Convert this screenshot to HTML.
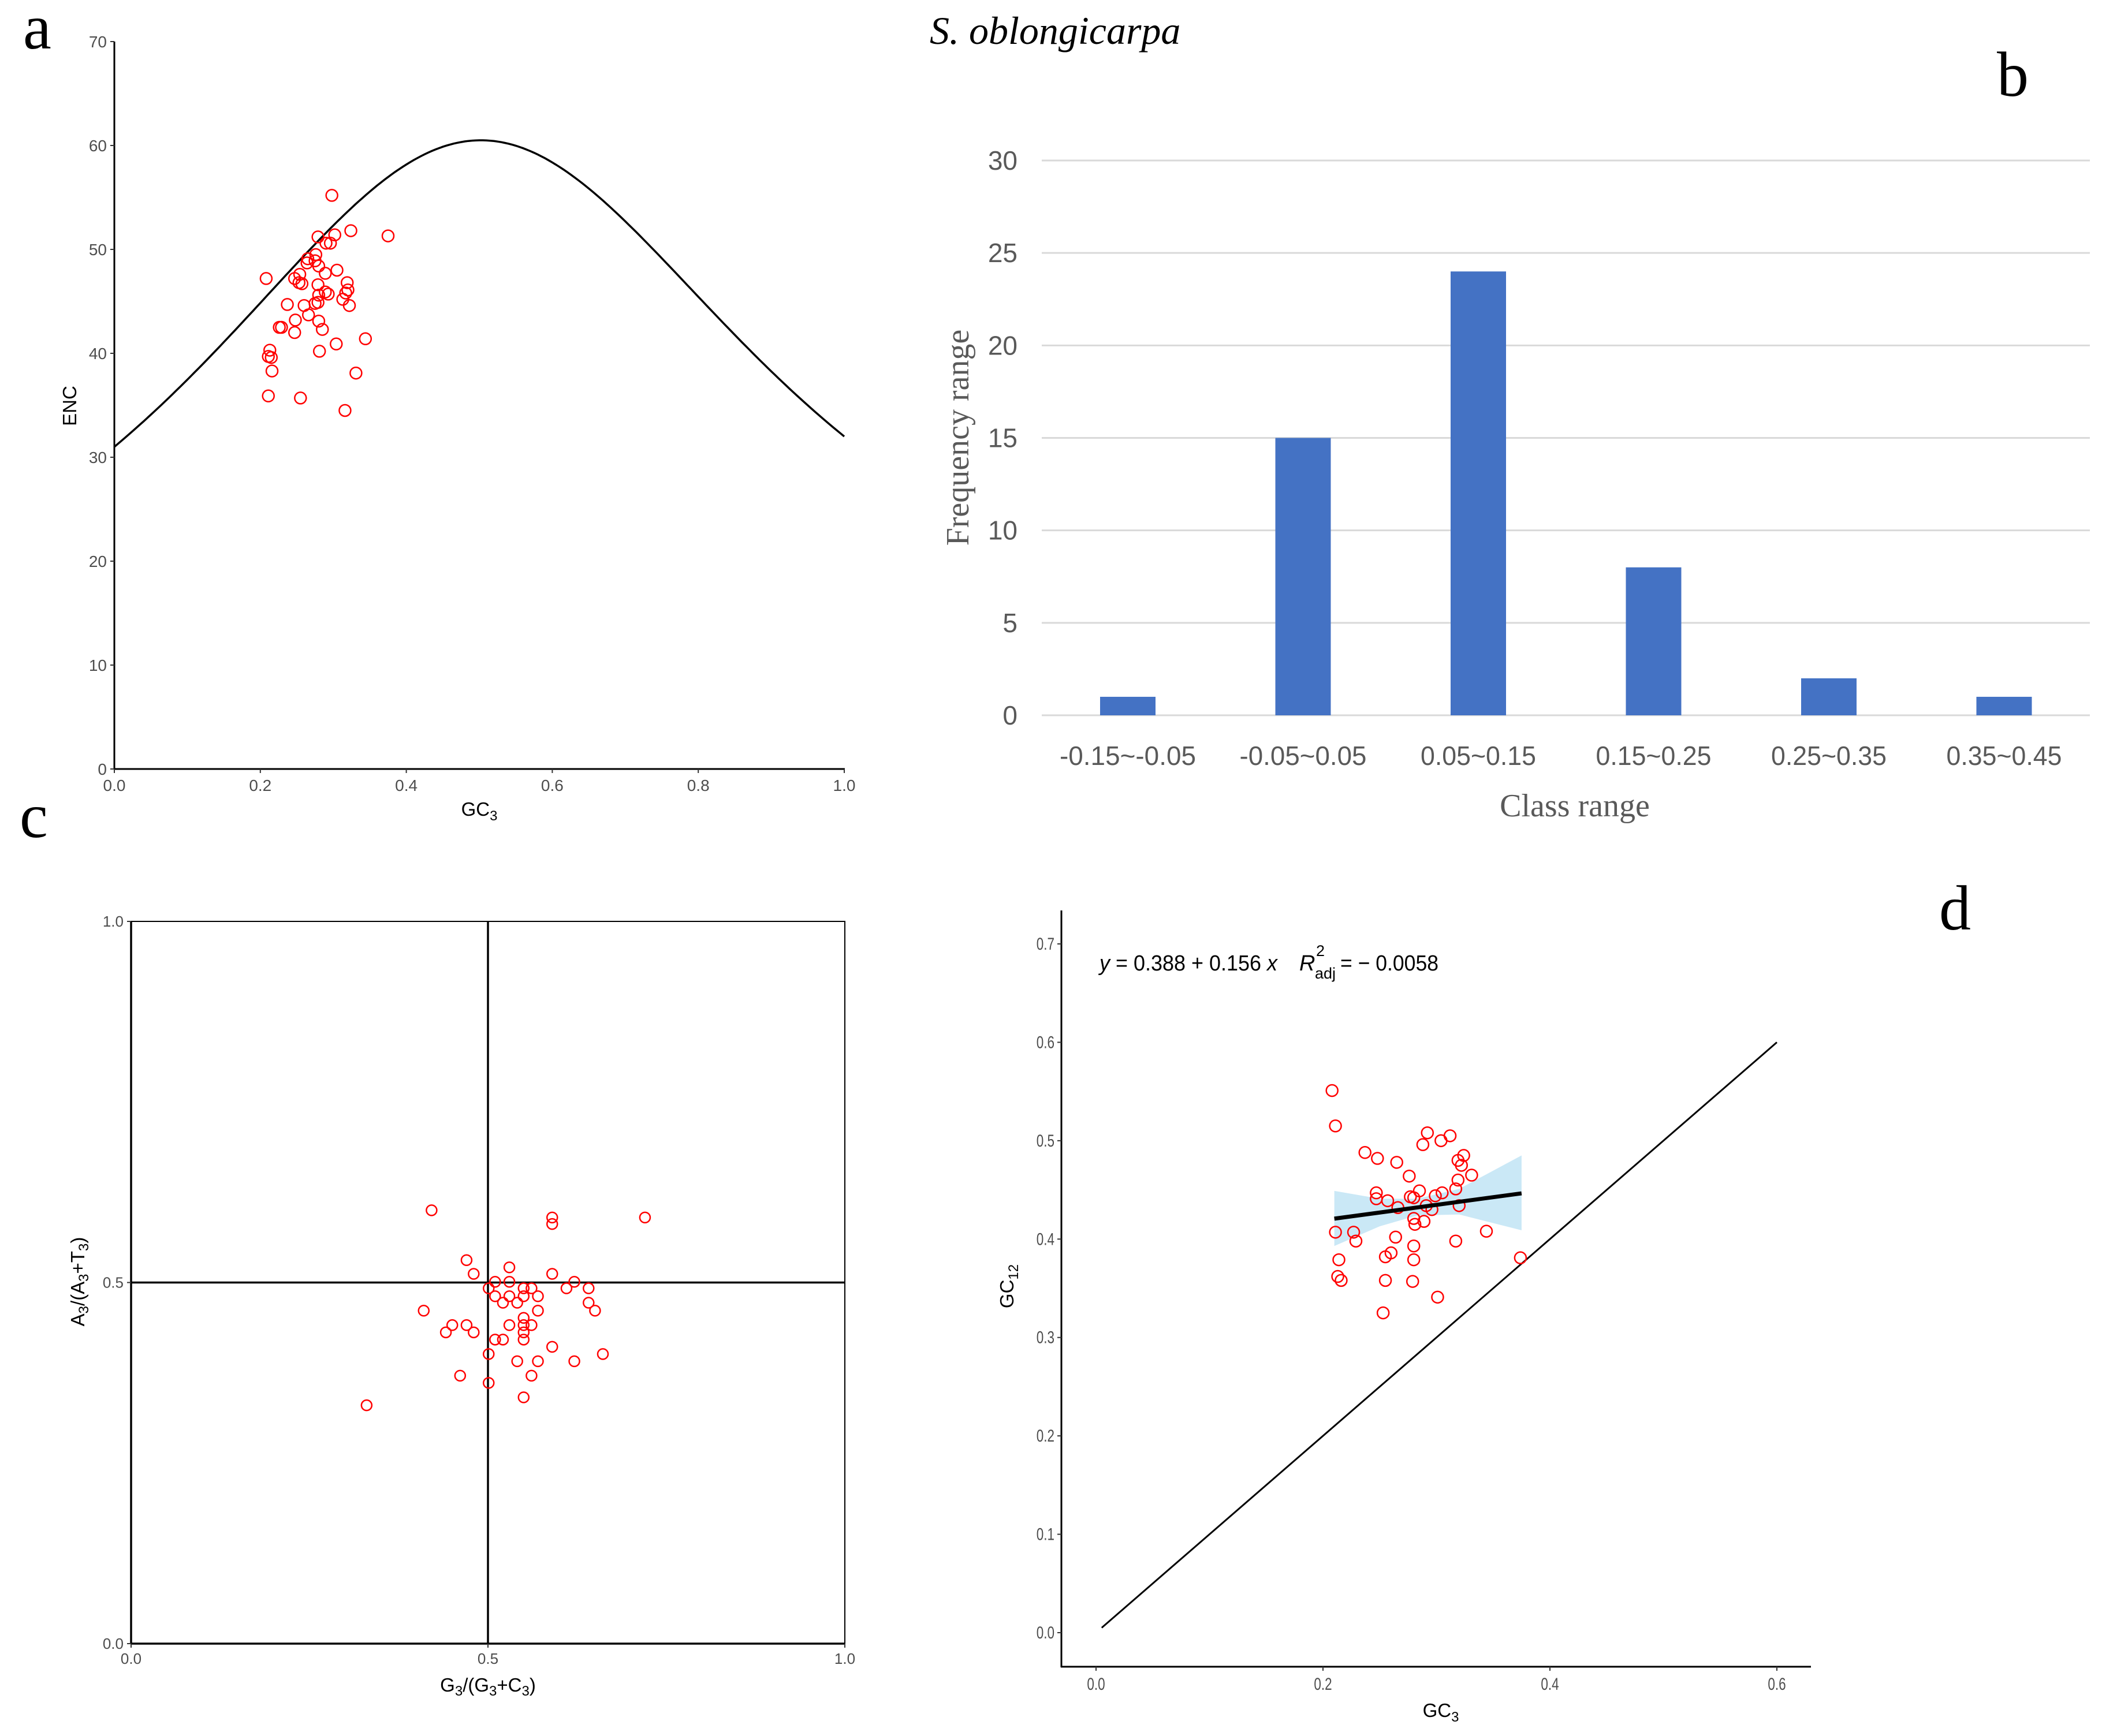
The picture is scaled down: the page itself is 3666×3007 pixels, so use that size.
<!DOCTYPE html>
<html><head><meta charset="utf-8"><style>
html,body{margin:0;padding:0;background:#fff;}
svg{display:block;}
text{font-family:"Liberation Sans",sans-serif;}
.serif{font-family:"Liberation Serif",serif;}
</style></head><body>
<svg id="fig" xmlns="http://www.w3.org/2000/svg" width="3666" height="3007" viewBox="0 0 3666 3007">
<rect width="3666" height="3007" fill="#fff"/>
<text class="serif" x="40" y="84" font-size="110">a</text>
<text class="serif" x="1610" y="76" font-size="68" font-style="italic">S. oblongicarpa</text>
<text class="serif" x="3458" y="166" font-size="110">b</text>
<text class="serif" x="34" y="1450" font-size="110">c</text>
<text class="serif" x="3358" y="1610" font-size="110">d</text>
<g id="pa"></g>
<g id="pb"></g>
<g id="pc"></g>
<g id="pd"></g>
</svg>
<script>
// ---- Panel a data ----
const encGC3 = [0.298,0.279,0.302,0.324,0.375,0.29,0.296,0.265,0.276,0.264,0.275,0.28,0.305,0.289,0.208,0.247,0.254,0.253,0.257,0.279,0.319,0.320,0.317,0.289,0.293,0.28,0.313,0.237,0.26,0.279,0.275,0.322,0.266,0.248,0.28,0.226,0.229,0.247,0.285,0.344,0.304,0.213,0.281,0.211,0.215,0.216,0.331,0.211,0.255,0.316];
const encVal = [55.2,51.2,51.4,51.8,51.3,50.6,50.6,49.1,49.5,48.7,48.9,48.4,48.0,47.7,47.2,47.2,47.6,46.8,46.7,46.6,46.8,46.1,45.8,45.9,45.7,45.6,45.2,44.7,44.6,44.9,44.8,44.6,43.7,43.2,43.1,42.5,42.5,42.0,42.3,41.4,40.9,40.3,40.2,39.7,39.6,38.3,38.1,35.9,35.7,34.5];
const encXTicks = ["0.0","0.2","0.4","0.6","0.8","1.0"];
const encYTicks = [0,10,20,30,40,50,60,70];
// ---- Panel b data ----
const binLabels = ["-0.15~-0.05","-0.05~0.05","0.05~0.15","0.15~0.25","0.25~0.35","0.35~0.45"];
const binCounts = [1,15,24,8,2,1];
const freqTicks = [0,5,10,15,20,25,30];
// ---- Panel c data ----
const pr2X = [0.421,0.590,0.590,0.72,0.470,0.530,0.480,0.590,0.510,0.530,0.621,0.501,0.550,0.561,0.610,0.641,0.510,0.530,0.550,0.570,0.521,0.541,0.641,0.410,0.570,0.650,0.550,0.450,0.470,0.530,0.550,0.561,0.441,0.480,0.550,0.510,0.521,0.550,0.590,0.501,0.661,0.541,0.570,0.621,0.461,0.561,0.501,0.550,0.330];
const pr2Y = [0.600,0.590,0.581,0.590,0.531,0.521,0.512,0.512,0.501,0.501,0.501,0.492,0.492,0.492,0.492,0.492,0.481,0.481,0.481,0.481,0.472,0.472,0.472,0.461,0.461,0.461,0.451,0.441,0.441,0.441,0.441,0.441,0.431,0.431,0.431,0.421,0.421,0.421,0.411,0.401,0.401,0.391,0.391,0.391,0.371,0.371,0.361,0.341,0.330];
const pr2Ticks = ["0.0","0.5","1.0"];
// ---- Panel d data ----
const ntGC3 = [0.208,0.211,0.292,0.312,0.304,0.288,0.237,0.248,0.324,0.319,0.265,0.322,0.276,0.331,0.319,0.247,0.285,0.317,0.305,0.247,0.257,0.277,0.280,0.299,0.266,0.291,0.296,0.320,0.280,0.281,0.289,0.211,0.227,0.344,0.264,0.229,0.317,0.280,0.214,0.255,0.260,0.280,0.374,0.213,0.216,0.255,0.279,0.301,0.253];
const ntGC12 = [0.551,0.515,0.508,0.505,0.500,0.496,0.488,0.482,0.485,0.480,0.478,0.475,0.464,0.465,0.460,0.447,0.449,0.451,0.447,0.441,0.439,0.443,0.442,0.444,0.432,0.434,0.430,0.434,0.421,0.415,0.418,0.407,0.407,0.408,0.402,0.398,0.398,0.393,0.379,0.382,0.386,0.379,0.381,0.362,0.358,0.358,0.357,0.341,0.325];
const fitCoef = [0.388,0.156];
const fitRange = [0.21,0.375];
const bandX = [0.21,0.25,0.283,0.32,0.375];
const bandLo = [0.393,0.413,0.424,0.425,0.409];
const bandHi = [0.449,0.441,0.441,0.451,0.485];
const ntXTicks = ["0.0","0.2","0.4","0.6"];
const ntYTicks = ["0.0","0.1","0.2","0.3","0.4","0.5","0.6","0.7"];

const NS="http://www.w3.org/2000/svg";
function mk(parent,tag,attrs,txt){const e=document.createElementNS(NS,tag);for(const k in attrs)e.setAttribute(k,attrs[k]);if(txt!==undefined)e.textContent=txt;parent.appendChild(e);return e;}

// ================= Panel a =================
const pa=document.getElementById('pa');
const AX0=198,AX1=1462,AY0=1332,AY70=72;
const ax=v=>AX0+v*(AX1-AX0), ay=v=>AY0-v*((AY0-AY70)/70);
let e;
e=mk(pa,'line',{x1:AX0,y1:AY70,x2:AX0,y2:AY0+1,stroke:'#000','stroke-width':3});


e=mk(pa,'line',{x1:AX0-1,y1:AY0,x2:AX1+1,y2:AY0,stroke:'#000','stroke-width':3});


encYTicks.forEach(v=>{
 mk(pa,'line',{x1:AX0-7,y1:ay(v),x2:AX0,y2:ay(v),stroke:'#333','stroke-width':2});
 e=mk(pa,'text',{x:AX0-13,y:ay(v)+10,'font-size':28,fill:'#4d4d4d','text-anchor':'end'},String(v));
 
 
});
encXTicks.forEach(t=>{
 const x=ax(parseFloat(t));
 mk(pa,'line',{x1:x,y1:AY0,x2:x,y2:AY0+7,stroke:'#333','stroke-width':2});
 e=mk(pa,'text',{x:x,y:AY0+38,'font-size':28,fill:'#4d4d4d','text-anchor':'middle'},t);
 
 
});
e=mk(pa,'text',{x:830,y:1413,'font-size':33,'text-anchor':'middle'});
e.innerHTML='GC<tspan font-size="24" dy="8">3</tspan>';


e=mk(pa,'text',{x:0,y:0,'font-size':33,'text-anchor':'middle',transform:'translate(132,703) rotate(-90)'},'ENC');


let d='';
for(let i=0;i<=200;i++){const s=i/200;const enc=2+s+29/(s*s+(1-s)*(1-s));d+=(i?'L':'M')+ax(s).toFixed(1)+' '+ay(enc).toFixed(1);}
e=mk(pa,'path',{d:d,fill:'none',stroke:'#000','stroke-width':3.5});


encGC3.forEach((g,i)=>{
 e=mk(pa,'circle',{cx:ax(g),cy:ay(encVal[i]),r:10,fill:'none',stroke:'#ff0000','stroke-width':2.5});
 
 
});

// ================= Panel b =================
const pb=document.getElementById('pb');
const by=v=>1239-v*(961/30), bx=i=>1953+i*303.5;
freqTicks.forEach(v=>{
 e=mk(pb,'line',{x1:1804,y1:by(v),x2:3619,y2:by(v),stroke:'#d9d9d9','stroke-width':3});
 
 
 e=mk(pb,'text',{x:1762,y:by(v)+16,'font-size':46,fill:'#595959','text-anchor':'end'},String(v));
 
 
});
binCounts.forEach((c,i)=>{
 e=mk(pb,'rect',{x:bx(i)-48,y:by(c),width:96,height:by(0)-by(c),fill:'#4472c4'});
 
 
 e=mk(pb,'text',{x:bx(i),y:1325,'font-size':46,fill:'#595959','text-anchor':'middle',textLength:236,lengthAdjust:'spacingAndGlyphs'},binLabels[i]);
 if(i>0) e.setAttribute('textLength', i===1?220:200);
 
 
});
e=mk(pb,'text',{x:2727,y:1414,'font-size':56,fill:'#595959','text-anchor':'middle',style:'font-family:"Liberation Serif",serif'},'Class range');


e=mk(pb,'text',{x:0,y:0,'font-size':56,fill:'#595959','text-anchor':'middle',style:'font-family:"Liberation Serif",serif',transform:'translate(1677,758) rotate(-90)'},'Frequency range');



// ================= Panel c =================
const pc=document.getElementById('pc');
const CX0=227,CX1=1463,CY0=2847,CY1=1596;
const cx=v=>CX0+v*(CX1-CX0), cy=v=>CY0-v*(CY0-CY1);
e=mk(pc,'rect',{x:CX0,y:CY1,width:CX1-CX0,height:CY0-CY1,fill:'none',stroke:'#000','stroke-width':2});


mk(pc,'line',{x1:CX0,y1:CY1,x2:CX0,y2:CY0+1,stroke:'#000','stroke-width':3.5});
mk(pc,'line',{x1:CX0-1,y1:CY0,x2:CX1+1,y2:CY0,stroke:'#000','stroke-width':3.5});
e=mk(pc,'line',{x1:cx(0.5),y1:CY1,x2:cx(0.5),y2:CY0,stroke:'#000','stroke-width':3.5});


e=mk(pc,'line',{x1:CX0,y1:cy(0.5),x2:CX1,y2:cy(0.5),stroke:'#000','stroke-width':3.5});


pr2Ticks.forEach(t=>{
 const v=parseFloat(t);
 mk(pc,'line',{x1:CX0-7,y1:cy(v),x2:CX0,y2:cy(v),stroke:'#333','stroke-width':2});
 e=mk(pc,'text',{x:CX0-13,y:cy(v)+9,'font-size':26,fill:'#4d4d4d','text-anchor':'end'},t);
 
 
 mk(pc,'line',{x1:cx(v),y1:CY0,x2:cx(v),y2:CY0+7,stroke:'#333','stroke-width':2});
 e=mk(pc,'text',{x:cx(v),y:CY0+35,'font-size':26,fill:'#4d4d4d','text-anchor':'middle'},t);
 
 
});
e=mk(pc,'text',{x:845,y:2930,'font-size':33,'text-anchor':'middle'});
e.innerHTML='G<tspan font-size="24" dy="7">3</tspan><tspan dy="-7">/(G</tspan><tspan font-size="24" dy="7">3</tspan><tspan dy="-7">+C</tspan><tspan font-size="24" dy="7">3</tspan><tspan dy="-7">)</tspan>';


e=mk(pc,'text',{x:0,y:0,'font-size':33,'text-anchor':'middle',transform:'translate(146,2220) rotate(-90)'});
e.innerHTML='A<tspan font-size="24" dy="7">3</tspan><tspan dy="-7">/(A</tspan><tspan font-size="24" dy="7">3</tspan><tspan dy="-7">+T</tspan><tspan font-size="24" dy="7">3</tspan><tspan dy="-7">)</tspan>';


pr2X.forEach((g,i)=>{
 e=mk(pc,'circle',{cx:cx(g),cy:cy(pr2Y[i]),r:9,fill:'none',stroke:'#ff0000','stroke-width':2.5});
 
 
});

// ================= Panel d =================
const pd=document.getElementById('pd');
const DX0=1898,DX6=3077,DY0=2828,DY7=1635;
const dx=v=>DX0+v*((DX6-DX0)/0.6), dy=v=>DY0-v*((DY0-DY7)/0.7);
e=mk(pd,'line',{x1:1838,y1:1577,x2:1838,y2:2888,stroke:'#000','stroke-width':3});


e=mk(pd,'line',{x1:1837,y1:2887,x2:3136,y2:2887,stroke:'#000','stroke-width':3});


ntYTicks.forEach(t=>{
 const v=parseFloat(t);
 mk(pd,'line',{x1:1831,y1:dy(v),x2:1838,y2:dy(v),stroke:'#333','stroke-width':2});
 e=mk(pd,'text',{x:1826,y:dy(v)+10,'font-size':30,fill:'#4d4d4d','text-anchor':'end',transform:'translate('+(1826*0.25)+',0) scale(0.75,1)'},t);
 
 
});
ntXTicks.forEach(t=>{
 const v=parseFloat(t);
 mk(pd,'line',{x1:dx(v),y1:2887,x2:dx(v),y2:2894,stroke:'#333','stroke-width':2});
 e=mk(pd,'text',{x:dx(v),y:2927,'font-size':30,fill:'#4d4d4d','text-anchor':'middle',transform:'translate('+(dx(v)*0.25)+',0) scale(0.75,1)'},t);
 
 
});
e=mk(pd,'text',{x:2495,y:2974,'font-size':33,'text-anchor':'middle'});
e.innerHTML='GC<tspan font-size="24" dy="8">3</tspan>';


e=mk(pd,'text',{x:0,y:0,'font-size':33,'text-anchor':'middle',transform:'translate(1755,2228) rotate(-90)'});
e.innerHTML='GC<tspan font-size="24" dy="8">12</tspan>';


e=mk(pd,'line',{x1:dx(0.005),y1:dy(0.005),x2:dx(0.6),y2:dy(0.6),stroke:'#000','stroke-width':3});


let bp='';
bandX.forEach((x,i)=>{bp+=(i?'L':'M')+dx(x)+' '+dy(bandHi[i]);});
for(let i=bandX.length-1;i>=0;i--){bp+='L'+dx(bandX[i])+' '+dy(bandLo[i]);}
e=mk(pd,'path',{d:bp+'Z',fill:'#a6d8f0','fill-opacity':0.6});


ntGC3.forEach((g,i)=>{
 e=mk(pd,'circle',{cx:dx(g),cy:dy(ntGC12[i]),r:10,fill:'none',stroke:'#ff0000','stroke-width':2.5});
 
 
});
e=mk(pd,'line',{x1:dx(fitRange[0]),y1:dy(fitCoef[0]+fitCoef[1]*fitRange[0]),x2:dx(fitRange[1]),y2:dy(fitCoef[0]+fitCoef[1]*fitRange[1]),stroke:'#000','stroke-width':7});


e=mk(pd,'text',{x:1904,y:1681,'font-size':38,textLength:308,lengthAdjust:'spacingAndGlyphs'});
e.innerHTML='<tspan font-style="italic">y</tspan> = 0.388 + 0.156 <tspan font-style="italic">x</tspan>';


e=mk(pd,'text',{x:2250,y:1681,'font-size':38,'font-style':'italic'},'R');


e=mk(pd,'text',{x:2279,y:1656,'font-size':27},'2');


e=mk(pd,'text',{x:2277,y:1695,'font-size':27},'adj');


e=mk(pd,'text',{x:2321,y:1681,'font-size':38,textLength:170,lengthAdjust:'spacingAndGlyphs'},'= − 0.0058');


</script>
</body></html>
